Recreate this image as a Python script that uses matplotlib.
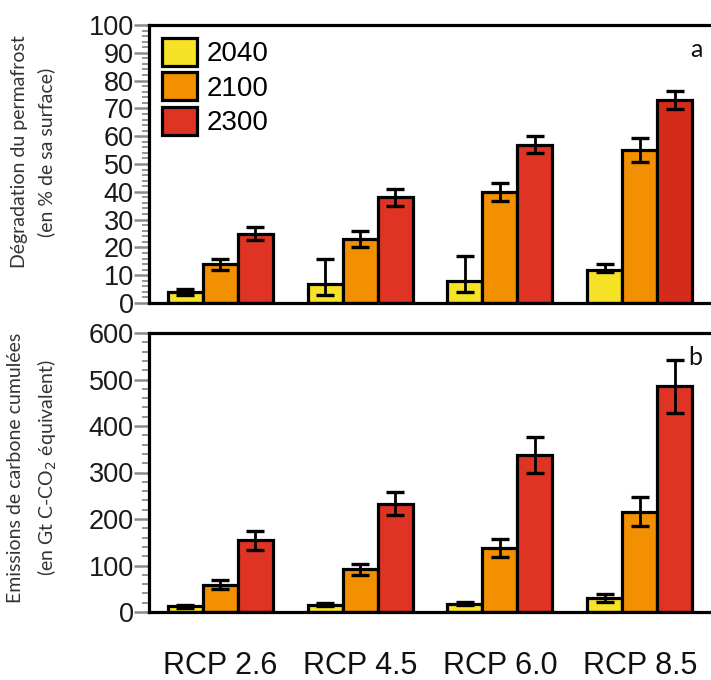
import matplotlib
matplotlib.use("Agg")
import matplotlib.pyplot as plt
import numpy as np

# données
scenarios = ["RCP 2.6", "RCP 4.5", "RCP 6.0", "RCP 8.5"]
years = ["2040", "2100", "2300"]

# a : dégradation du permafrost (% de surface)
perm_2040 = [4, 7, 8, 12]
perm_2100 = [14, 23, 40, 55]
perm_2300 = [25, 38, 57, 73]
perm_2040_lo = [3, 3, 4, 11]
perm_2040_hi = [5, 16, 17, 14]
perm_2100_err = [2, 3, 3.3, 4.2]
perm_2300_err = [2.5, 3, 3, 3.2]

# b : émissions de carbone cumulées (Gt C-CO2 eq)
emis_2040 = [12, 16, 18, 30]
emis_2100 = [59, 92, 137, 216]
emis_2300 = [154, 233, 338, 486]
emis_2040_err = [3, 4, 4, 8]
emis_2100_err = [10, 12, 19, 31]
emis_2300_err = [21, 25, 38, 57]

jaune = '#f6e226'
orange = '#f39002'
rouge = '#df3323'
rouge_fonce = '#d42b1a'

plt.rcParams['font.family'] = ['Liberation Sans', 'DejaVu Sans']

fig = plt.figure(figsize=(7.11, 6.8), dpi=100)
ax1 = fig.add_axes([149/711, 1 - 303/680, 1 - 149/711, 278/680])
ax2 = fig.add_axes([149/711, 1 - 612/680, 1 - 149/711, 279/680])

x = np.arange(len(scenarios)) * 4
w = 1.0
bar_kw = dict(width=w, edgecolor='black', linewidth=2.3, zorder=2)
err_kw = dict(ecolor='black', elinewidth=2, capsize=6.5, capthick=2.4)

# panneau a
lo = np.array(perm_2040) - np.array(perm_2040_lo)
hi = np.array(perm_2040_hi) - np.array(perm_2040)
ax1.bar(x - w, perm_2040, color=jaune, yerr=[lo, hi], error_kw=err_kw, label=years[0], **bar_kw)
ax1.bar(x, perm_2100, color=orange, yerr=perm_2100_err, error_kw=err_kw, label=years[1], **bar_kw)
ax1.bar(x + w, perm_2300, color=[rouge, rouge, rouge, rouge_fonce], yerr=perm_2300_err,
        error_kw=err_kw, label=years[2], **bar_kw)
ax1.set_ylim(0, 100)
ax1.set_yticks(np.arange(0, 101, 10))
ax1.set_yticks(np.arange(0, 101, 2), minor=True)

# panneau b
ax2.bar(x - w, emis_2040, color=jaune, yerr=emis_2040_err, error_kw=err_kw, **bar_kw)
ax2.bar(x, emis_2100, color=orange, yerr=emis_2100_err, error_kw=err_kw, **bar_kw)
ax2.bar(x + w, emis_2300, color=rouge, yerr=emis_2300_err, error_kw=err_kw, **bar_kw)
ax2.set_ylim(0, 600)
ax2.set_yticks(np.arange(0, 601, 100))
ax2.set_yticks(np.arange(0, 601, 20), minor=True)

for ax in (ax1, ax2):
    ax.set_xlim(-2.03, 14.03)
    ax.spines['right'].set_visible(False)
    for s in ('left', 'top', 'bottom'):
        ax.spines[s].set_linewidth(2.3)
    ax.tick_params(axis='y', which='major', length=11, width=1.8, color='#8a8a8a',
                   labelsize=19.5, labelcolor='#1a1a1a', pad=0)
    ax.tick_params(axis='y', which='minor', length=5, width=1.3, color='#8a8a8a')
    ax.tick_params(axis='x', length=0)

ax1.set_xticks([])
ax2.set_xticks(x)
ax2.set_xticklabels(scenarios, fontsize=22, color='#111111')
ax2.tick_params(axis='x', pad=28)

leg = ax1.legend(loc='upper left', frameon=False, fontsize=20, handlelength=1.26,
                 handleheight=1.19, labelspacing=0.18, handletextpad=0.36,
                 borderaxespad=0.25, borderpad=0.2)
for h in leg.legend_handles:
    h.set_linewidth(2.3)

ax1.text(0.985, 0.955, 'a', transform=ax1.transAxes, ha='right', va='top',
         fontsize=18, family='Lato', color='#111111')
ax2.text(0.985, 0.955, 'b', transform=ax2.transAxes, ha='right', va='top',
         fontsize=18, family='Lato', color='#111111')

fig.text(33/711, 1 - 152/680, 'Dégradation du permafrost\n(en % de sa surface)',
         rotation=90, ha='center', va='center', multialignment='center',
         fontsize=14, family='Lato', color='#333333', linespacing=1.6)
fig.text(33/711, 1 - 468/680, 'Emissions de carbone cumulées\n(en Gt C-CO$_2$ équivalent)',
         rotation=90, ha='center', va='center', multialignment='center',
         fontsize=14, family='Lato', color='#333333', linespacing=1.6)

plt.savefig('out.png', dpi=100)
